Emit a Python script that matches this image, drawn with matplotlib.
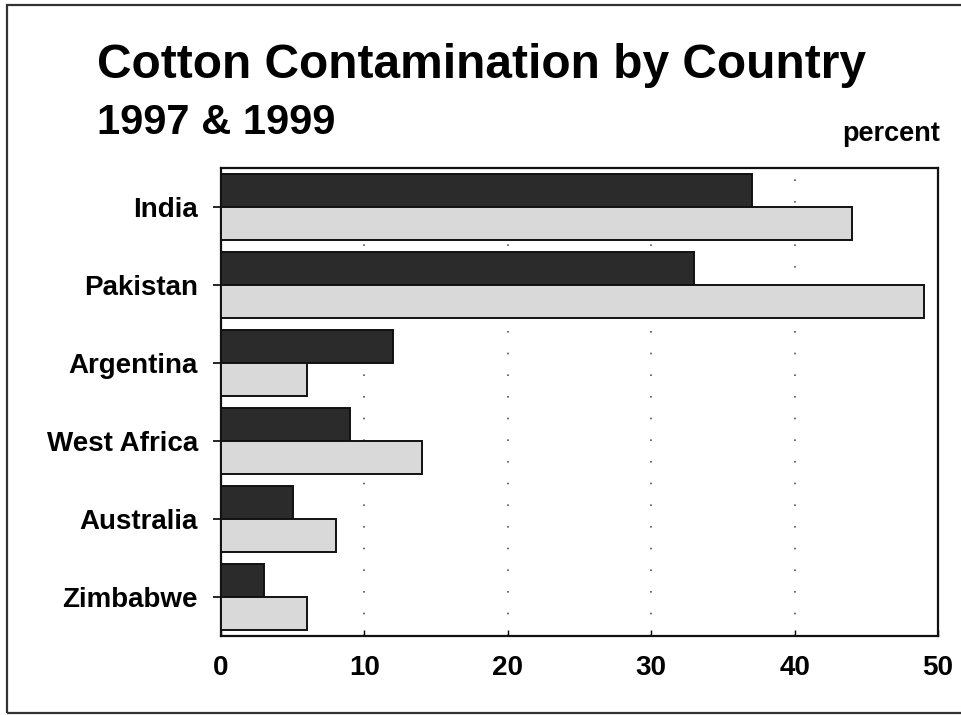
import matplotlib
matplotlib.use("Agg")
import matplotlib.pyplot as plt
from matplotlib.patches import Rectangle

countries = ["India", "Pakistan", "Argentina", "West Africa", "Australia", "Zimbabwe"]
pct_1997 = [37, 33, 12, 9, 5, 3]
pct_1999 = [44, 49, 6, 14, 8, 6]
x_ticks = [0, 10, 20, 30, 40, 50]

plt.rcParams["font.family"] = ["Liberation Sans", "DejaVu Sans"]
plt.rcParams["font.weight"] = "bold"

W, H = 962, 715
fig = plt.figure(figsize=(W / 100, H / 100), dpi=100, facecolor="white")

# page frame
fig.patches.append(Rectangle((7 / W, 1 - 713 / H), (W + 10) / W, (713 - 5) / H,
                             transform=fig.transFigure, fill=False,
                             edgecolor="#333333", linewidth=1.6))

left, right, top, bottom = 221, 938, 168, 636
ax = fig.add_axes([left / W, 1 - bottom / H, (right - left) / W, (bottom - top) / H])

bh = 0.42
pos = list(range(len(countries)))
ax.barh([p - bh / 2 for p in pos], pct_1997, height=bh, color="#2b2b2b",
        edgecolor="#111111", linewidth=1.4, zorder=3)
ax.barh([p + bh / 2 for p in pos], pct_1999, height=bh, color="#d9d9d9",
        edgecolor="#111111", linewidth=1.4, zorder=3)

ax.set_xlim(0, 50)
ax.set_ylim(len(countries) - 0.5, -0.5)
ax.set_xticks(x_ticks)
ax.set_xticklabels([str(t) for t in x_ticks], fontsize=20, fontweight="bold")
ax.set_yticks(pos)
ax.set_yticklabels(countries, fontsize=20, fontweight="bold")
ax.tick_params(axis="y", length=6, width=1.2, pad=10.5)
ax.tick_params(axis="x", direction="in", length=4, width=1, pad=14)
for t in x_ticks[1:-1]:
    ax.axvline(t, color="#555555", linestyle=(0, (1, 12)), linewidth=1.2, zorder=1)
for s in ax.spines.values():
    s.set_linewidth(1.6)
    s.set_color("#111111")

fig.text(97 / W, 1 - 78 / H, "Cotton Contamination by Country", fontsize=34.5,
         fontweight="bold", ha="left", va="baseline")
fig.text(97 / W, 1 - 134 / H, "1997 & 1999", fontsize=30,
         fontweight="bold", ha="left", va="baseline")
fig.text(940 / W, 1 - 141 / H, "percent", fontsize=19.5,
         fontweight="bold", ha="right", va="baseline")

fig.savefig("out.png", dpi=100, facecolor="white")
